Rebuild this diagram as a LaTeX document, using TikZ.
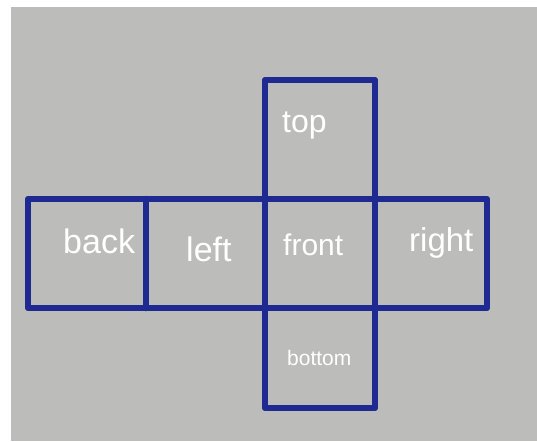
\documentclass[tikz,border=0pt]{standalone}
\usepackage{fontspec}
\setmainfont{Liberation Sans}
\usetikzlibrary{positioning}
\definecolor{ink}{RGB}{30,42,145}
\definecolor{paper}{RGB}{188,189,186}

\begin{document}
\begin{tikzpicture}[
      x=1pt, y=-1pt,
      edge/.style={draw=ink, line width=6.5pt, line cap=round, line join=round},
      lbl/.style={text=white, inner sep=0pt, anchor=base west,
                  font=\fontsize{#1}{#1}\selectfont}
    ]
    \useasboundingbox (0,0) rectangle (537,441);
    \fill[paper] (11,7) rectangle (537,441);
    % the net
    \draw[edge] (28,199) rectangle (487,308);
    \draw[edge] (146,199) -- (146,308);
    \draw[edge] (265,80) rectangle (375,408);
    % faces
    \node[lbl=32] (top)    at (282,132) {top};
    \node[lbl=34] (back)   at (63,253)  {back};
    \node[lbl=34] (left)   at (186,261) {left};
    \node[lbl=30] (front)  at (283,255) {front};
    \node[lbl=33] (right)  at (409,251) {right};
    \node[lbl=21] (bottom) at (287,365) {bottom};
  \end{tikzpicture}
\end{document}
